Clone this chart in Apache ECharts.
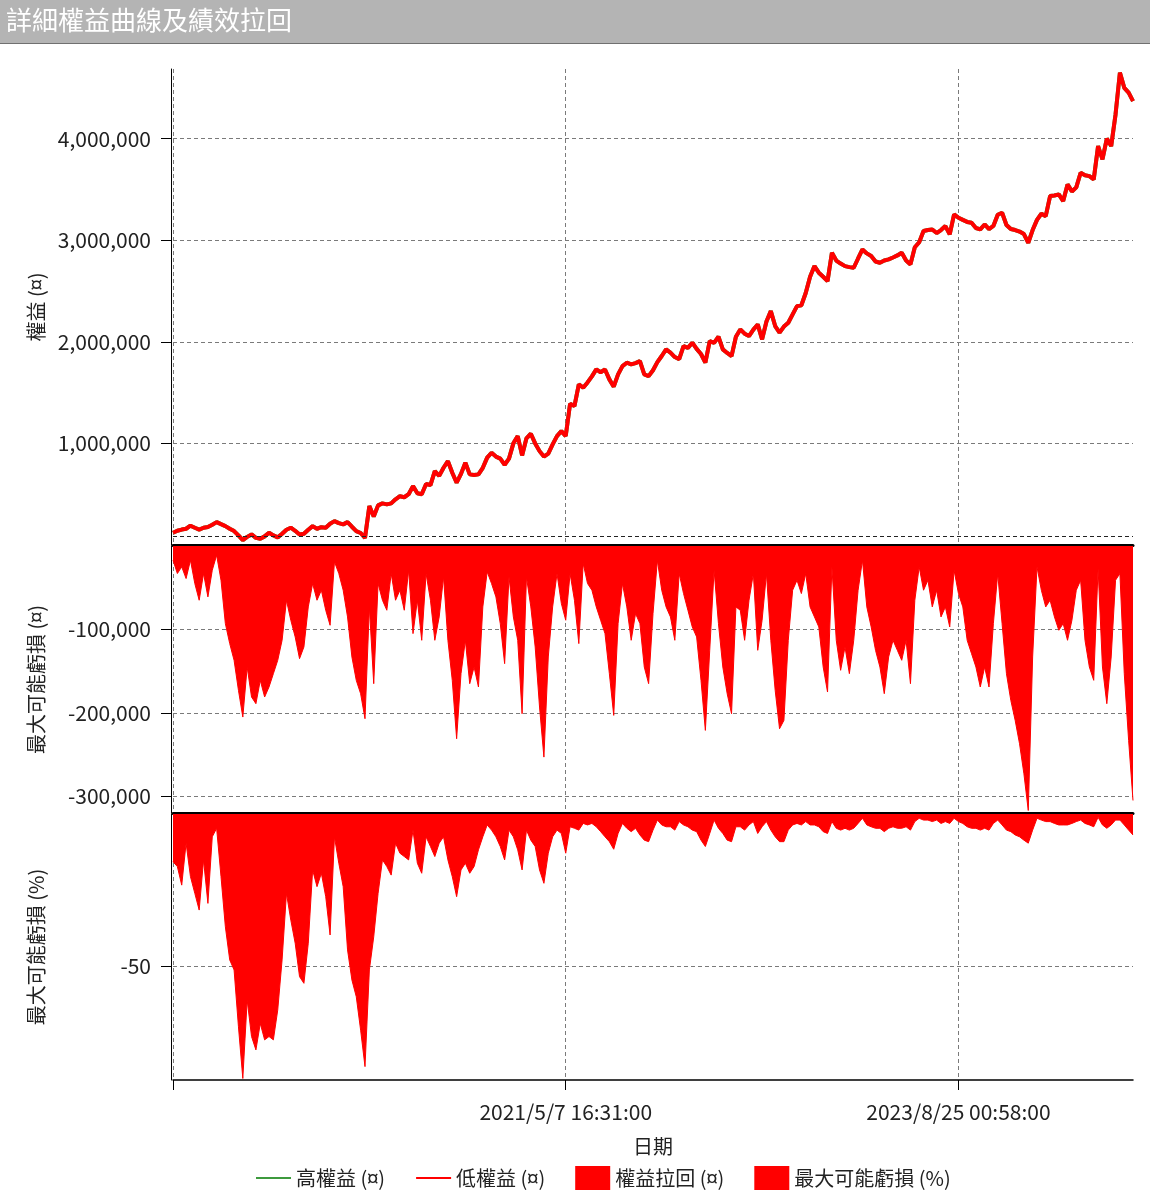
<!DOCTYPE html>
<html><head><meta charset="utf-8">
<script src="https://cdn.jsdelivr.net/npm/echarts@6/dist/echarts.min.js"></script>
<style>html,body{margin:0;padding:0;background:#fff}#chart{width:1150px;height:1199px}</style>
</head><body><div id="chart"></div>
<script>
const titleText = '詳細權益曲線及績效拉回';
const seriesNames = ['高權益 (¤)', '低權益 (¤)', '權益拉回 (¤)', '最大可能虧損 (%)'];
const yNames = ['權益 (¤)', '最大可能虧損 (¤)', '最大可能虧損 (%)'];
const xName = '日期';
const xTickIndex = [0, 90, 180];
const xTickLabels = ['', '2021/5/7 16:31:00', '2023/8/25 00:58:00'];
const equityTicks = [1000000, 2000000, 3000000, 4000000];
const ddAmountTicks = [-100000, -200000, -300000];
const ddPctTicks = [-50];
const equityBase = 90000;

// equity in thousands
const equityK = [120,140,152,160,190,170,152,170,178,200,
225,205,186,160,137,95,48,80,104,70,
62,85,121,95,75,110,150,170,140,104,
110,150,186,160,175,170,210,235,215,203,
225,180,137,118,70,383,280,390,410,400,
410,450,480,470,500,580,510,500,600,590,
727,680,760,826,711,613,700,810,695,690,
695,760,860,908,870,850,790,850,1000,1072,
882,1050,1095,1000,924,870,900,990,1072,1120,
1072,1390,1367,1580,1548,1600,1660,1728,1700,1728,
1630,1558,1679,1760,1794,1777,1790,1810,1679,1662,
1720,1800,1860,1925,1893,1850,1830,1958,1940,1991,
1930,1880,1794,2007,1990,2050,1925,1890,1859,2050,
2122,2080,2056,2120,2171,2024,2200,2302,2155,2090,
2150,2188,2270,2351,2360,2480,2640,2745,2680,2640,
2597,2877,2800,2770,2745,2735,2729,2820,2909,2870,
2844,2790,2778,2800,2811,2830,2850,2877,2800,2762,
2930,2980,3090,3100,3106,3070,3100,3139,3057,3254,
3221,3200,3180,3172,3120,3106,3155,3110,3140,3250,
3270,3150,3110,3100,3085,3060,2975,3100,3200,3260,
3237,3434,3440,3451,3385,3549,3480,3520,3664,3640,
3631,3598,3926,3795,4000,3926,4238,4649,4500,4452,
4369];

// drawdown amount in thousands (negative)
const ddAmountK = [-17,-33,-25,-39,-17,-45,-65,-33,-61,-29,
-11,-41,-93,-117,-137,-173,-205,-145,-181,-189,
-161,-181,-169,-153,-137,-113,-65,-89,-109,-135,
-121,-73,-45,-65,-53,-77,-95,-19,-33,-53,
-85,-133,-161,-177,-207,-73,-165,-45,-65,-77,
-33,-65,-53,-77,-29,-105,-65,-113,-33,-65,
-113,-85,-37,-113,-161,-231,-153,-113,-165,-145,
-169,-73,-31,-45,-61,-93,-141,-37,-85,-113,
-201,-37,-73,-121,-193,-253,-133,-73,-33,-69,
-89,-33,-65,-117,-21,-45,-53,-73,-89,-105,
-153,-203,-93,-45,-73,-113,-81,-93,-145,-165,
-81,-17,-53,-73,-85,-113,-33,-57,-77,-97,
-109,-161,-221,-125,-29,-93,-145,-177,-201,-73,
-77,-113,-65,-33,-125,-89,-33,-113,-173,-219,
-209,-113,-53,-41,-57,-33,-73,-85,-97,-145,
-175,-25,-113,-149,-121,-153,-113,-53,-17,-73,
-97,-125,-145,-177,-133,-113,-125,-137,-113,-165,
-65,-25,-53,-41,-73,-53,-85,-73,-97,-29,
-57,-73,-113,-129,-145,-169,-145,-169,-93,-33,
-93,-153,-185,-209,-237,-273,-317,-133,-25,-53,
-73,-65,-85,-101,-93,-113,-89,-53,-41,-113,
-145,-161,-27,-145,-189,-133,-41,-33,-153,-233,
-305];

// drawdown in percent (negative)
const ddPct = [-15.7,-17.3,-23.4,-9.6,-20.6,-26.1,-31.6,-15.1,-29.4,-7.5,
-4.7,-20.6,-37.1,-48,-51.3,-70,-87,-61.2,-73.2,-77.6,
-68.9,-74.3,-73.2,-74.3,-64.5,-48,-26.1,-34.9,-42.5,-53.5,
-55.7,-42.5,-18.4,-23.9,-19.5,-27.2,-39.8,-7.5,-16.2,-23.9,
-44.7,-54.6,-60.1,-71.1,-83.1,-51.3,-40.4,-26.1,-15.1,-17.3,
-20.1,-9.6,-12.9,-14,-15.1,-5.3,-16.2,-19.5,-7.5,-10.7,
-14,-9.6,-7.5,-15.1,-20.6,-27.2,-18.4,-16.2,-19.5,-17.3,
-11.8,-7.5,-3.6,-5.3,-7.5,-10.7,-15.1,-5.3,-7.5,-11.8,
-18.4,-5.3,-8.6,-10.7,-18.4,-22.8,-12.9,-7.5,-5.3,-6.4,
-12.9,-4.2,-4.7,-5.3,-3.1,-3.6,-3.1,-4.2,-5.8,-7.5,
-9.1,-11.6,-6.4,-3.1,-4.7,-5.8,-4.7,-6.9,-8.6,-9.1,
-5.3,-2,-3.6,-4.2,-4.2,-5.3,-2.5,-3.6,-4.2,-5.3,
-5.8,-8.6,-10.7,-6.4,-2,-4.7,-6.4,-8.6,-9.1,-4.2,
-4.2,-5.3,-3.6,-2.5,-6.4,-4.2,-2.5,-5.3,-7.5,-9.1,
-9.1,-5.3,-3.6,-3.1,-3.6,-2.5,-3.6,-3.6,-4.2,-5.8,
-6.4,-2.5,-4.7,-5.3,-4.7,-5.3,-4.7,-3.1,-1.4,-3.6,
-4.2,-4.7,-4.7,-5.8,-4.7,-4.2,-4.7,-4.7,-4.2,-5.3,
-2.5,-1.4,-2,-2,-2.5,-2,-3.1,-2.5,-3.1,-1.4,
-2.5,-3.1,-4.2,-4.7,-4.7,-5.3,-4.7,-5.3,-3.1,-2,
-3.6,-5.3,-5.8,-6.9,-7.5,-8.6,-9.6,-5.3,-1.4,-2,
-2.5,-2.5,-3.1,-3.6,-3.6,-3.6,-3.1,-2.5,-2,-3.1,
-3.6,-4.2,-1.1,-3.6,-4.7,-3.6,-2,-2,-3.6,-5.3,
-6.9];

const FONT = '"Noto Sans CJK TC", "Noto Sans", sans-serif';
const categories = equityK.map((_, i) => String(i));
const equity = equityK.map(v => v * 1000);
const ddAmount = ddAmountK.map(v => v * 1000);
const isTick = (idx) => xTickIndex.indexOf(idx) >= 0;
const gridDash = { color: '#7a7a7a', type: [4, 3], width: 1 };

function xAxisCfg(gridIndex, last) {
  return {
    type: 'category', gridIndex, data: categories, boundaryGap: false,
    axisLine: { show: true, onZero: false, lineStyle: { color: '#000', width: last ? 1.5 : 3 } },
    axisTick: { show: last, length: 10, interval: isTick, lineStyle: { color: '#000', width: 1 } },
    axisLabel: {
      show: last, interval: isTick, margin: 22, fontSize: 21, color: '#222', fontFamily: FONT,
      formatter: (v) => { const k = xTickIndex.indexOf(Number(v)); return k >= 0 ? xTickLabels[k] : ''; }
    },
    splitLine: { show: true, interval: isTick, lineStyle: gridDash },
    name: last ? xName : '', nameLocation: 'middle', nameGap: 56,
    nameTextStyle: { fontSize: 20, color: '#222', fontFamily: FONT }
  };
}
function yAxisCfg(gridIndex, min, max, ticks, name) {
  return {
    type: 'value', gridIndex, min, max, offset: 2,
    axisLine: { show: true, lineStyle: { color: '#000', width: 1 } },
    axisTick: { show: true, length: 10, customValues: ticks, lineStyle: { color: '#000' } },
    axisLabel: { customValues: ticks, margin: 20, fontSize: 21, color: '#222', fontFamily: FONT,
      formatter: (v) => Number(v).toLocaleString('en-US') },
    splitLine: { show: true, lineStyle: gridDash },
    name, nameLocation: 'middle', nameGap: 125, nameRotate: 90,
    nameTextStyle: { fontSize: 20, color: '#222', fontFamily: FONT }
  };
}

const chart = echarts.init(document.getElementById('chart'), null, { renderer: 'canvas' });
chart.setOption({
  animation: false,
  backgroundColor: '#fff',
  graphic: [
    { type: 'rect', left: 0, top: 0, shape: { width: 1150, height: 44 }, style: { fill: '#b4b4b4' }, z: 0 },
    { type: 'rect', left: 0, top: 43, shape: { width: 1150, height: 1 }, style: { fill: '#707070' }, z: 1 },
    { type: 'text', left: 6, top: 7, style: { text: titleText, fill: '#fff', font: '26px "Noto Sans CJK TC"' }, z: 2 }
  ],
  grid: [
    { left: 173, right: 17, top: 69, height: 476 },
    { left: 173, right: 17, top: 546, height: 267 },
    { left: 173, right: 17, top: 814, height: 266 }
  ],
  xAxis: [xAxisCfg(0, false), xAxisCfg(1, false), xAxisCfg(2, true)],
  yAxis: [
    yAxisCfg(0, 0, 4685000, equityTicks, yNames[0]),
    yAxisCfg(1, -320000, 0, ddAmountTicks, yNames[1]),
    yAxisCfg(2, -87.5, 0, ddPctTicks, yNames[2])
  ],
  legend: {
    left: 250, top: 1161, itemWidth: 35, itemHeight: 24, itemGap: 30,
    textStyle: { fontSize: 20, color: '#222', fontFamily: FONT },
    data: [
      { name: seriesNames[0], itemStyle: { opacity: 0 }, lineStyle: { width: 2, color: '#3d9a3d' } },
      { name: seriesNames[1], itemStyle: { opacity: 0 }, lineStyle: { width: 2, color: '#ff0000' } },
      { name: seriesNames[2], icon: 'rect' }, { name: seriesNames[3], icon: 'rect' }
    ]
  },
  series: [
    { name: seriesNames[0], type: 'line', xAxisIndex: 0, yAxisIndex: 0, data: equity,
      symbol: 'none', color: '#3d9a3d', lineStyle: { width: 4, color: '#3d9a3d' } },
    { name: seriesNames[1], type: 'line', xAxisIndex: 0, yAxisIndex: 0, data: equity,
      symbol: 'none', color: '#ff0000', lineStyle: { width: 4, color: '#ff0000' },
      markLine: { silent: true, symbol: 'none', label: { show: false },
        lineStyle: { color: '#222', type: [4, 3], width: 1 }, data: [{ yAxis: equityBase }] } },
    { name: seriesNames[2], type: 'line', xAxisIndex: 1, yAxisIndex: 1, data: ddAmount,
      symbol: 'none', color: '#ff0000', lineStyle: { width: 1, color: '#ff0000' },
      areaStyle: { color: '#ff0000', opacity: 1 } },
    { name: seriesNames[3], type: 'line', xAxisIndex: 2, yAxisIndex: 2, data: ddPct,
      symbol: 'none', color: '#ff0000', lineStyle: { width: 1, color: '#ff0000' },
      areaStyle: { color: '#ff0000', opacity: 1 } }
  ]
});
</script></body></html>
